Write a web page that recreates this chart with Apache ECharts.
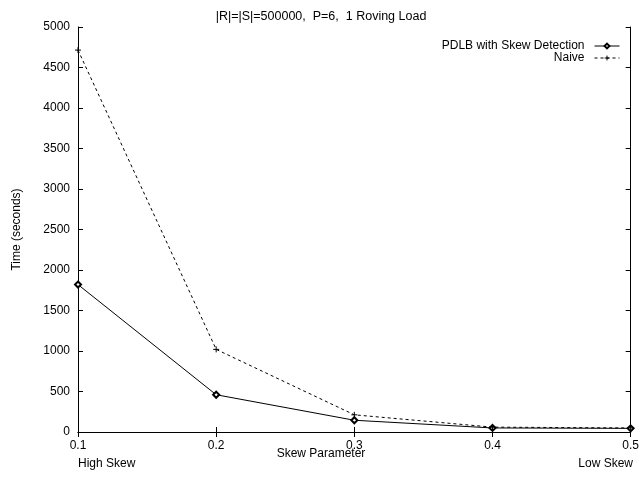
<!DOCTYPE html>
<html><head><meta charset="utf-8">
<script src="https://cdn.jsdelivr.net/npm/echarts@6/dist/echarts.min.js"></script>
<style>html,body{margin:0;padding:0;background:#fff}#c{width:642px;height:477px}</style>
</head><body><div id="c"></div>
<script>
const categories = ['0.1', '0.2', '0.3', '0.4', '0.5'];
const pdlb = [1820, 460, 145, 50, 45];
const naive = [4715, 1020, 212, 60, 50];
const yTicks = [0, 500, 1000, 1500, 2000, 2500, 3000, 3500, 4000, 4500, 5000];

const F = 'Liberation Sans, Arial, Helvetica, sans-serif';
const chart = echarts.init(document.getElementById('c'));
const plus = 'path://M0,5L10,5M5,0L5,10';
chart.setOption({
  animation: false,
  backgroundColor: '#fff',
  title: {
    text: '|R|=|S|=500000,  P=6,  1 Roving Load',
    left: 'center', top: 5,
    textStyle: {fontFamily: F, fontSize: 12.5, fontWeight: 'normal', color: '#000'}
  },
  legend: {
    right: 22, top: 40, orient: 'vertical', align: 'right', padding: 0,
    itemWidth: 25, itemHeight: 6, itemGap: 0,
    textStyle: {fontFamily: F, fontSize: 12, color: '#000', lineHeight: 11, padding: [0, 5, 0, 0]},
    lineStyle: {width: 1},
    itemStyle: {borderWidth: 1},
    data: ['PDLB with Skew Detection', 'Naive']
  },
  grid: {left: 78, right: 9, top: 27, bottom: 45},
  xAxis: [{
    type: 'category', data: categories, boundaryGap: false,
    axisLine: {lineStyle: {color: '#000', width: 1}},
    axisTick: {inside: true, length: 5, lineStyle: {color: '#000'}},
    axisLabel: {fontFamily: F, fontSize: 12, color: '#000', margin: 8},
    splitLine: {show: false}
  }, {
    type: 'category', data: categories, boundaryGap: false, position: 'top',
    axisLine: {lineStyle: {color: '#000', width: 1}},
    axisTick: {inside: true, length: 5, lineStyle: {color: '#000'}},
    axisLabel: {show: false}, splitLine: {show: false}
  }],
  yAxis: [{
    type: 'value', min: yTicks[0], max: yTicks[yTicks.length - 1], interval: 500,
    name: 'Time (seconds)', nameLocation: 'middle', nameGap: 55, nameRotate: 90,
    nameTextStyle: {fontFamily: F, fontSize: 12, color: '#000'},
    axisLine: {show: true, lineStyle: {color: '#000', width: 1}},
    axisTick: {show: true, inside: true, length: 5, lineStyle: {color: '#000'}},
    axisLabel: {fontFamily: F, fontSize: 12, color: '#000', margin: 8, formatter: v => String(v)},
    splitLine: {show: false}
  }, {
    type: 'value', min: yTicks[0], max: yTicks[yTicks.length - 1], interval: 500, position: 'right',
    axisLine: {show: true, lineStyle: {color: '#000', width: 1}},
    axisTick: {show: true, inside: true, length: 5, lineStyle: {color: '#000'}},
    axisLabel: {show: false}, splitLine: {show: false}
  }],
  graphic: [
    {type: 'text', left: 78, top: 458, style: {text: 'High Skew', font: '12px ' + F, fill: '#000'}},
    {type: 'text', right: 9, top: 458, style: {text: 'Low Skew', font: '12px ' + F, fill: '#000'}},
    {type: 'text', left: 'center', top: 448, style: {text: 'Skew Parameter', font: '12px ' + F, fill: '#000'}}
  ],
  series: [{
    name: 'PDLB with Skew Detection', type: 'line', data: pdlb,
    symbol: 'emptyDiamond', symbolSize: 6,
    lineStyle: {color: '#000', width: 1},
    itemStyle: {color: '#000', borderColor: '#000', borderWidth: 1}
  }, {
    name: 'Naive', type: 'line', data: naive,
    symbol: plus, symbolSize: 6,
    lineStyle: {color: '#000', width: 1, type: [3, 3]},
    itemStyle: {color: 'none', borderColor: '#000', borderWidth: 1}
  }]
});
</script></body></html>
